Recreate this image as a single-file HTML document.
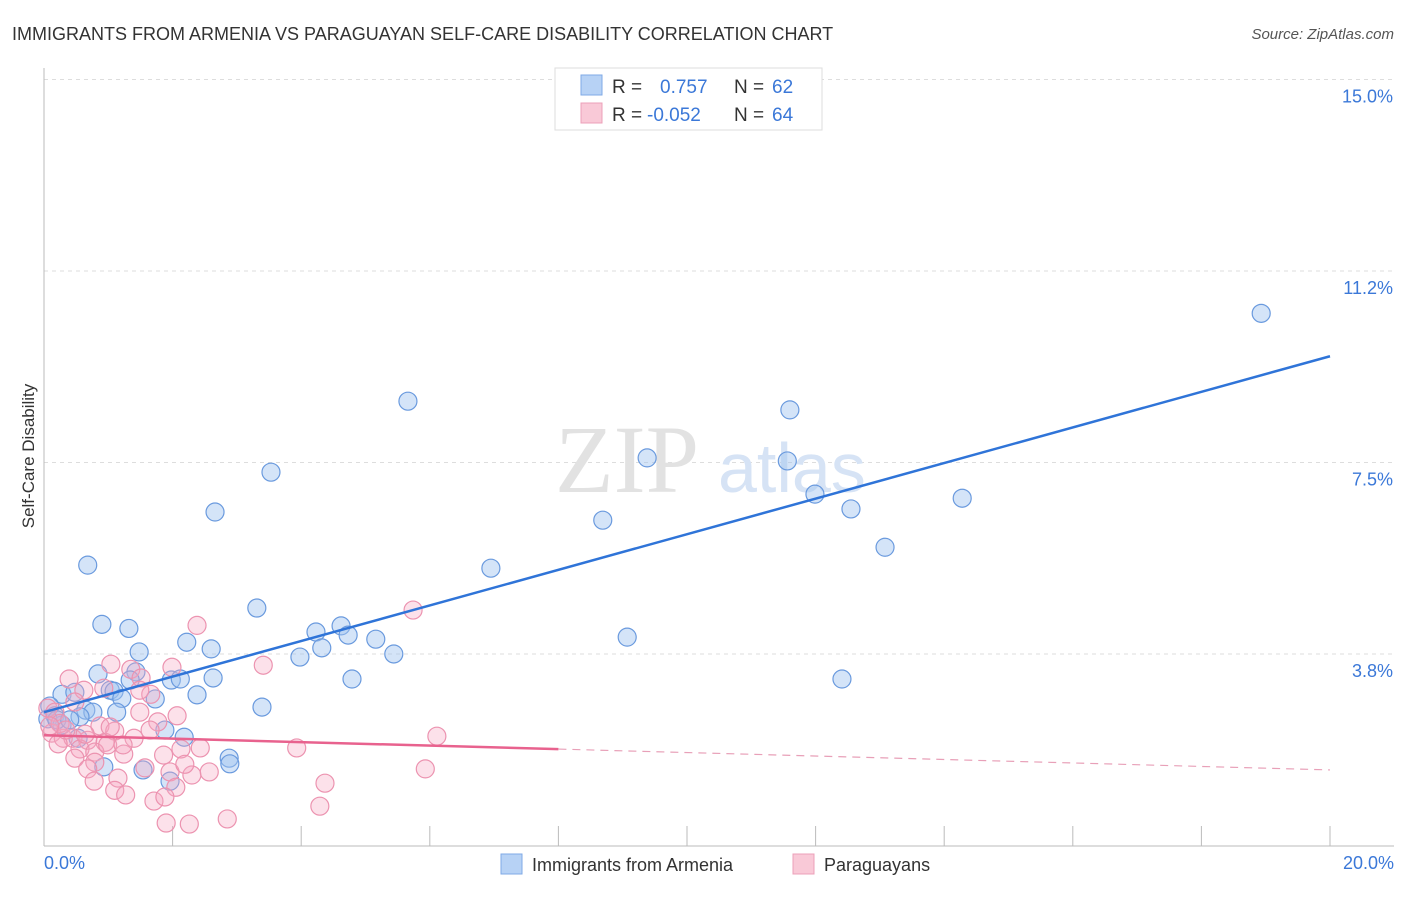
<!DOCTYPE html>
<html><head><meta charset="utf-8"><style>
body{margin:0;background:#fff;font-family:"Liberation Sans",sans-serif}
</style></head><body>
<svg width="1406" height="892" xmlns="http://www.w3.org/2000/svg" font-family="Liberation Sans, sans-serif">
<text x="12" y="40" font-size="18" fill="#333">IMMIGRANTS FROM ARMENIA VS PARAGUAYAN SELF-CARE DISABILITY CORRELATION CHART</text>
<text x="1394" y="39" font-size="15" fill="#555" font-style="italic" text-anchor="end">Source: ZipAtlas.com</text>
<g id="grid"></g>
<text x="555" y="492" font-size="96" fill="#e2e2e2" font-family="Liberation Serif, serif">ZIP</text>
<text x="718" y="492" font-size="70" fill="#d6e3f5">atlas</text>
<g id="pts"></g>
<g id="lines"></g>
<text transform="translate(34,456) rotate(-90)" font-size="17" fill="#333" text-anchor="middle">Self-Care Disability</text>
<text x="44" y="869" font-size="18" fill="#3b78d8">0.0%</text>
<text x="1394" y="869" font-size="18" fill="#3b78d8" text-anchor="end">20.0%</text>
<g>
<rect x="555" y="68" width="267" height="62" fill="#fff" stroke="#ddd"/>
<rect x="581" y="75" width="21" height="20" fill="#b7d2f5" stroke="#7fa9e6"/>
<rect x="581" y="103" width="21" height="20" fill="#f9c9d7" stroke="#eca0b8"/>
<text x="612" y="93" font-size="19" fill="#333">R =</text>
<text x="660" y="93" font-size="19" fill="#3b78d8">0.757</text>
<text x="734" y="93" font-size="19" fill="#333">N =</text>
<text x="772" y="93" font-size="19" fill="#3b78d8">62</text>
<text x="612" y="121" font-size="19" fill="#333">R =</text>
<text x="647" y="121" font-size="19" fill="#3b78d8">-0.052</text>
<text x="734" y="121" font-size="19" fill="#333">N =</text>
<text x="772" y="121" font-size="19" fill="#3b78d8">64</text>
</g>
<g>
<rect x="501" y="854" width="21" height="20" fill="#b7d2f5" stroke="#7fa9e6"/>
<text x="532" y="871" font-size="18" fill="#333">Immigrants from Armenia</text>
<rect x="793" y="854" width="21" height="20" fill="#f9c9d7" stroke="#eca0b8"/>
<text x="824" y="871" font-size="18" fill="#333">Paraguayans</text>
</g>
</svg>
<script>
const yTicks=[3.75,7.5,11.25,15];
const yTickLabels=["3.8%","7.5%","11.2%","15.0%"];
const xTicks=[0,2,4,6,8,10,12,14,16,18,20];
const blueX=[18.93,5.66,11.60,9.38,11.56,3.53,11.99,14.28,12.55,2.66,8.69,13.08,6.95,0.68,3.31,0.90,1.32,4.23,4.62,4.73,9.07,5.16,2.22,4.32,2.60,1.48,5.44,3.98,0.84,1.43,1.34,1.98,2.12,2.63,4.79,12.41,0.28,0.48,1.03,1.09,2.38,1.21,1.73,3.39,0.09,0.65,0.76,1.13,0.17,0.56,0.06,0.28,1.88,2.18,0.53,2.88,2.89,0.93,1.54,1.96,0.20,0.40];
const blueY=[10.42,8.70,8.53,7.59,7.53,7.31,6.88,6.80,6.59,6.53,6.37,5.84,5.43,5.49,4.65,4.33,4.25,4.18,4.30,4.12,4.08,4.04,3.98,3.87,3.85,3.79,3.75,3.69,3.36,3.40,3.24,3.24,3.26,3.28,3.26,3.26,2.96,3.00,3.04,3.02,2.95,2.88,2.87,2.71,2.73,2.65,2.61,2.61,2.54,2.52,2.48,2.36,2.26,2.12,2.10,1.71,1.60,1.54,1.48,1.26,2.46,2.46];
const pinkX=[5.74,2.38,1.04,1.99,3.41,0.39,1.35,1.51,0.62,0.93,1.66,0.48,1.49,2.07,0.06,1.77,0.87,1.10,1.65,0.12,0.30,0.45,0.68,0.95,6.11,0.22,0.56,0.79,0.99,3.93,2.13,1.24,1.86,0.48,0.79,0.68,1.57,1.96,2.30,2.57,5.93,1.15,0.78,2.05,1.10,1.27,1.71,1.88,4.37,4.29,1.90,2.26,2.85,0.17,0.25,0.34,1.40,2.43,1.23,0.64,1.03,0.09,1.49,2.19];
const pinkY=[4.61,4.31,3.55,3.49,3.53,3.26,3.45,3.28,3.04,3.08,2.96,2.81,2.61,2.54,2.69,2.42,2.34,2.24,2.26,2.20,2.10,2.10,2.06,2.02,2.14,1.99,1.89,1.83,1.97,1.91,1.89,1.79,1.77,1.71,1.63,1.50,1.52,1.44,1.38,1.44,1.50,1.32,1.26,1.14,1.08,0.99,0.87,0.95,1.22,0.77,0.44,0.42,0.52,2.61,2.39,2.26,2.10,1.91,1.97,2.18,2.32,2.34,3.04,1.59];
const blueFit=[2.61,9.58];
const pinkFit=[2.16,1.48];
const NS="http://www.w3.org/2000/svg";
const X=v=>44+v*64.3, Y=v=>845.5-v*51.07;
function mk(tag,a,p){const e=document.createElementNS(NS,tag);for(const k in a)e.setAttribute(k,a[k]);p.appendChild(e);return e;}
const g=document.getElementById('grid');
yTicks.forEach((t,i)=>{
 const l=mk('line',{x1:44,x2:1394,y1:Y(t),y2:Y(t),stroke:'#ddd','stroke-dasharray':'4,4'},g);
 
 
 const tx=mk('text',{x:1393,y:Y(t)+23,'font-size':18,fill:'#3b78d8','text-anchor':'end'},g);
 tx.textContent=yTickLabels[i];
 
 
});
const ax=mk('line',{x1:44,x2:44,y1:68,y2:846,stroke:'#bbb'},g);


const bx=mk('line',{x1:44,x2:1394,y1:846,y2:846,stroke:'#bbb'},g);


xTicks.forEach(t=>{
 const l=mk('line',{x1:X(t),x2:X(t),y1:826,y2:846,stroke:'#bbb'},g);
 
 
});
const pg=document.getElementById('pts');
blueX.forEach((v,i)=>{
 const c=mk('circle',{cx:X(v),cy:Y(blueY[i]),r:9,fill:'rgba(160,196,240,0.45)',stroke:'#6a9ade','stroke-width':1.2},pg);
 
 
});
pinkX.forEach((v,i)=>{
 const c=mk('circle',{cx:X(v),cy:Y(pinkY[i]),r:9,fill:'rgba(245,170,195,0.35)',stroke:'#ec93b0','stroke-width':1.2},pg);
 
 
});
const lg=document.getElementById('lines');
const bl=mk('line',{x1:X(0),y1:Y(blueFit[0]),x2:X(20),y2:Y(blueFit[1]),stroke:'#2f74d8','stroke-width':2.5},lg);


const pAt=x=>pinkFit[0]+(pinkFit[1]-pinkFit[0])*x/20;
const pl=mk('line',{x1:X(0),y1:Y(pAt(0)),x2:X(8),y2:Y(pAt(8)),stroke:'#e8628e','stroke-width':2.5},lg);


const pd=mk('line',{x1:X(8),y1:Y(pAt(8)),x2:X(20),y2:Y(pAt(20)),stroke:'#e8a0b8','stroke-width':1.2,'stroke-dasharray':'8,6'},lg);


</script>
</body></html>
